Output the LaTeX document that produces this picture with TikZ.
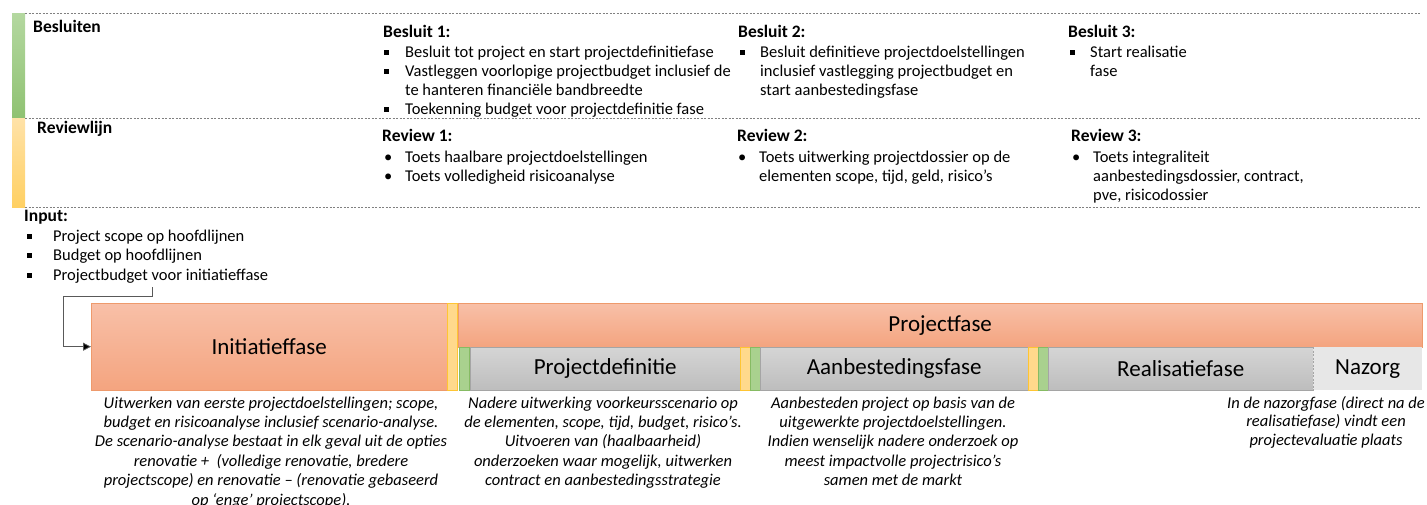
\documentclass[tikz,border=0pt]{standalone}
\usepackage{fontspec}
\setmainfont{Carlito}
\usetikzlibrary{arrows.meta}
\definecolor{salT}{HTML}{F8C0A8}
\definecolor{salB}{HTML}{F4A47F}
\definecolor{salD}{HTML}{EE9A6C}
\definecolor{gryT}{HTML}{D5D5D5}
\definecolor{gryB}{HTML}{BDBDBD}
\definecolor{gryD}{HTML}{A5A5A5}
\definecolor{grnF}{HTML}{A9D18E}
\definecolor{grnD}{HTML}{86BB63}
\definecolor{ylwF}{HTML}{FFD98C}
\definecolor{ylwD}{HTML}{FFC533}
\definecolor{nazF}{HTML}{E7E7E7}
\definecolor{lgT}{HTML}{B4D8A0}
\definecolor{lgB}{HTML}{8FC272}
\definecolor{lyT}{HTML}{FFE2A8}
\definecolor{lyB}{HTML}{FFD062}
\tikzset{
  txt/.style={inner sep=0pt, font=\fontsize{16.5}{19.4}\selectfont, align=left, anchor=base west},
  head/.style={txt, font=\fontsize{17.5}{19.4}\selectfont\bfseries},
  desc/.style={inner sep=0pt, font=\fontsize{16.5}{19.4}\selectfont\itshape, align=center, anchor=base},
  sq/.style={fill=black, minimum size=5pt, inner sep=0pt},
  dashline/.style={draw=black!50, dash pattern=on 2pt off 1.5pt, line width=0.6pt},
  salbox/.style={draw=salD, top color=salT, bottom color=salB, inner sep=0pt, anchor=north west, font=\fontsize{23}{26}\selectfont},
  grybox/.style={draw=gryD, top color=gryT, bottom color=gryB, inner sep=0pt, anchor=north west, font=\fontsize{23}{26}\selectfont, minimum height=43pt},
  grnbar/.style={draw=grnD, fill=grnF, inner sep=0pt, anchor=north west, minimum width=10pt, minimum height=43pt},
  ylwbar/.style={draw=ylwD, fill=ylwF, inner sep=0pt, anchor=north west, minimum width=10pt},
}
\begin{document}
\begin{tikzpicture}[x=1pt,y=-1pt]
\useasboundingbox (0,0) rectangle (1427,504);
% left colour bars
\shade[top color=lgT, bottom color=lgB] (12,13) rectangle (25,118);
\shade[top color=lyT, bottom color=lyB] (12,118) rectangle (25,207);
% dashed separators
\coordinate (d1a) at (25,13);  \coordinate (d1b) at (1420,13);
\coordinate (d2a) at (25,118); \coordinate (d2b) at (1420,118);
\coordinate (d3a) at (25,207); \coordinate (d3b) at (1420,207);
\draw[dashline] (d1a) -- (d1b);
\draw[dashline] (d2a) -- (d2b);
\draw[dashline] (d3a) -- (d3b);

\node[head] (besl) at (33,32.5) {Besluiten};
\node[head] (revl) at (37,133.5) {Reviewlijn};

% Besluit 1
\node[head] (b1) at (383,37) {Besluit 1:};
\node[sq] (b1s1) at (386,52) {};
\node[txt] (b1t1) at (405,57) {Besluit tot project en start projectdefinitiefase};
\node[sq] (b1s2) at (386,71) {};
\node[txt] (b1t2) at (405,95.4) {Vastleggen voorlopige projectbudget inclusief de\\te hanteren financiële bandbreedte};
\node[sq] (b1s3) at (386,109) {};
\node[txt] (b1t3) at (405,114.5) {Toekenning budget voor projectdefinitie fase};
% Besluit 2
\node[head] (b2) at (738,37) {Besluit 2:};
\node[sq] (b2s1) at (742,52) {};
\node[txt] (b2t1) at (760,95.8) {Besluit definitieve projectdoelstellingen\\inclusief vastlegging projectbudget en\\start aanbestedingsfase};
% Besluit 3
\node[head] (b3) at (1068,37) {Besluit 3:};
\node[sq] (b3s1) at (1072,52) {};
\node[txt] (b3t1) at (1090,76.4) {Start realisatie\\fase};

% Review 1
\node[head] (r1) at (382,141.5) {Review 1:};
\node[txt] (r1s1) at (384,162) {•};
\node[txt] (r1t1) at (405,162) {Toets haalbare projectdoelstellingen};
\node[txt] (r1s2) at (384,181) {•};
\node[txt] (r1t2) at (405,181) {Toets volledigheid risicoanalyse};
% Review 2
\node[head] (r2) at (737,141.5) {Review 2:};
\node[txt] (r2s1) at (738,162) {•};
\node[txt] (r2t1) at (759,181.4) {Toets uitwerking projectdossier op de\\elementen scope, tijd, geld, risico’s};
% Review 3
\node[head] (r3) at (1071,141.5) {Review 3:};
\node[txt] (r3s1) at (1072,162) {•};
\node[txt] (r3t1) at (1093,200.8) {Toets integraliteit\\aanbestedingsdossier, contract,\\pve, risicodossier};

% Input
\node[head] (inp) at (24,221.5) {Input:};
\node[sq] (is1) at (29,236) {};
\node[txt] (it1) at (53,241) {Project scope op hoofdlijnen};
\node[sq] (is2) at (29,255) {};
\node[txt] (it2) at (53,260) {Budget op hoofdlijnen};
\node[sq] (is3) at (29,275) {};
\node[txt] (it3) at (53,280) {Projectbudget voor initiatieffase};

% phase boxes
\node[salbox, minimum width=356pt, minimum height=87pt] (init) at (91,303) {Initiatieffase};
\node[ylwbar, minimum height=87pt] (y0) at (447,303) {};
\node[salbox, minimum width=964pt, minimum height=44pt] (proj) at (458,303) {Projectfase};
\node[grnbar] (g1) at (459,347) {};
\node[grybox, minimum width=270pt] (pdef) at (470,347) {Projectdefinitie};
\node[ylwbar, minimum height=43pt] (y1) at (740,347) {};
\node[grnbar] (g2) at (750,347) {};
\node[grybox, minimum width=268pt] (aanb) at (760,347) {Aanbestedingsfase};
\node[ylwbar, minimum height=43pt] (y2) at (1028,347) {};
\node[grnbar] (g3) at (1038,347) {};
\node[grybox, minimum width=265pt] (real) at (1048,347) {Realisatiefase};
\node[fill=nazF, inner sep=0pt, anchor=north west, minimum width=109pt, minimum height=43pt, font=\fontsize{23}{26}\selectfont] (naz) at (1313,347) {Nazorg};
\draw[dashline, draw=black!35] (naz.north west) -- (naz.south west);

% input connector
\coordinate (c0) at (152,287);
\draw[black!65, line width=0.8pt, -{Triangle[length=8pt,width=8pt,fill=black]}]
  (c0) -- (152,296) -- (63,296) |- (init.west);

% descriptions
\node[desc] (dinit) at (271,505) {Uitwerken van eerste projectdoelstellingen; scope,\\budget en risicoanalyse inclusief scenario-analyse.\\De scenario-analyse bestaat in elk geval uit de opties\\renovatie +\ \ (volledige renovatie, bredere\\projectscope) en renovatie – (renovatie gebaseerd\\op ‘enge’ projectscope).};
\node[desc] (dpdef) at (603,485.6) {Nadere uitwerking voorkeursscenario op\\de elementen, scope, tijd, budget, risico’s.\\Uitvoeren van (haalbaarheid)\\onderzoeken waar mogelijk, uitwerken\\contract en aanbestedingsstrategie};
\node[desc] (daanb) at (893,485.6) {Aanbesteden project op basis van de\\uitgewerkte projectdoelstellingen.\\Indien wenselijk nadere onderzoek op\\meest impactvolle projectrisico’s\\samen met de markt};
\node[desc, font=\fontsize{16.5}{18.6}\selectfont\itshape] (dnaz) at (1326,445.2) {In de nazorgfase (direct na de\\realisatiefase) vindt een\\projectevaluatie plaats};
\end{tikzpicture}
\end{document}
